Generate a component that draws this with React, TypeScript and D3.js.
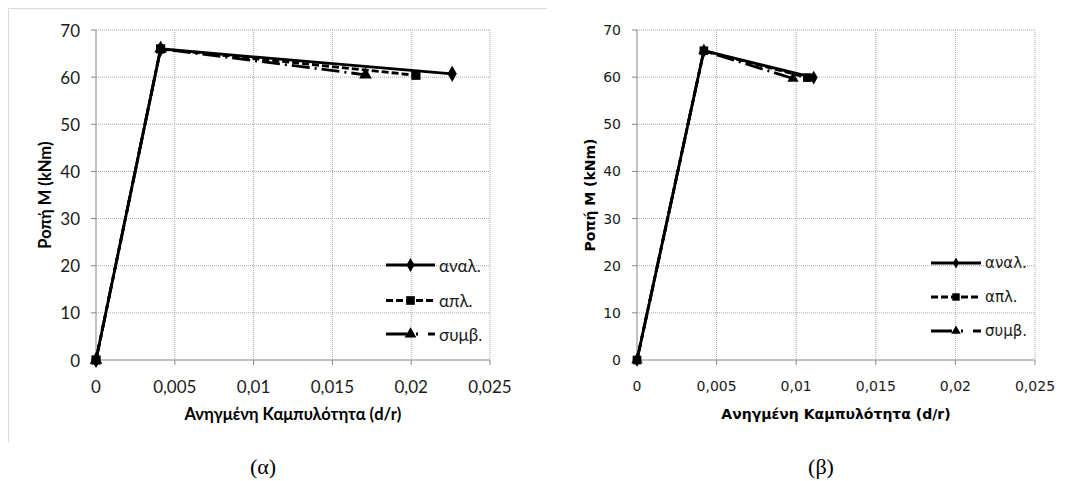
import * as d3 from 'd3'

// shared axis ticks
const xTicks = [0, 0.005, 0.01, 0.015, 0.02, 0.025]
const xTickLabels = ['0', '0,005', '0,01', '0,015', '0,02', '0,025']
const yTicks = [0, 10, 20, 30, 40, 50, 60, 70]

const seriesNames = ['αναλ.', 'απλ.', 'συμβ.']
const xTitle = 'Ανηγμένη Καμπυλότητα (d/r)'
const yTitle = 'Ροπή Μ (kNm)'

// chart (α)
const curvA_anal = [0, 0.0041, 0.0226]
const momA_anal = [0, 66, 60.7]
const curvA_apl = [0, 0.0041, 0.0203]
const momA_apl = [0, 66, 60.4]
const curvA_symv = [0, 0.0041, 0.0171]
const momA_symv = [0, 66, 60.5]

// chart (β)
const curvB_anal = [0, 0.0042, 0.0111]
const momB_anal = [0, 65.6, 59.9]
const curvB_apl = [0, 0.0042, 0.0107]
const momB_apl = [0, 65.6, 59.9]
const curvB_symv = [0, 0.0042, 0.0098]
const momB_symv = [0, 65.6, 59.7]

type Pt = [number, number]
const zip = (xs: number[], ys: number[]): Pt[] => xs.map((x, i) => [x, ys[i]])

const DASHES = ['none', '7,3', '18,5,2,5']
const LEGEND_DASHES = ['none', '7,3', '21,9,2,10,8,50']
const SYMBOLS = [d3.symbolDiamond, d3.symbolSquare, d3.symbolTriangle]

type ChartProps = {
  left: number
  right: number
  top: number
  bottom: number
  series: Pt[][]
  font: string
  tickSize: number
  titleSize: number
  legendSize: number
  legendX: number
  legendY: number[]
  legendLen: number
  markerSize: number[]
  legendMarker: number[]
  yTitleX: number
  caption: string
  captionX: number
}

function Chart(p: ChartProps) {
  const x = d3.scaleLinear().domain([0, 0.025]).range([p.left, p.right])
  const y = d3.scaleLinear().domain([0, 70]).range([p.bottom, p.top])
  const line = d3.line<Pt>().x((d) => x(d[0])).y((d) => y(d[1]))
  const cx = (p.left + p.right) / 2
  const order = [2, 0, 1]

  return (
    <g fontFamily={p.font}>
      {/* grid */}
      {yTicks.slice(1).map((t) => (
        <line key={'gy' + t} x1={p.left} x2={p.right} y1={y(t)} y2={y(t)}
          stroke="#a6a6a6" strokeDasharray="1,1" />
      ))}
      {xTicks.slice(1).map((t) => (
        <line key={'gx' + t} x1={x(t)} x2={x(t)} y1={p.top} y2={p.bottom}
          stroke="#a6a6a6" strokeDasharray="1,1" />
      ))}
      {/* axes */}
      <line x1={p.left} x2={p.left} y1={p.top} y2={p.bottom} stroke="#868686" />
      <line x1={p.left} x2={p.right} y1={p.bottom} y2={p.bottom} stroke="#868686" />
      {yTicks.map((t) => (
        <g key={'ty' + t}>
          <line x1={p.left - 5} x2={p.left} y1={y(t)} y2={y(t)} stroke="#868686" />
          <text x={p.left - 16} y={y(t)} textAnchor="end" dominantBaseline="central"
            fontSize={p.tickSize} fill="#1a1a1a">{t}</text>
        </g>
      ))}
      {xTicks.map((t, i) => (
        <g key={'tx' + t}>
          <line x1={x(t)} x2={x(t)} y1={p.bottom} y2={p.bottom + 5} stroke="#868686" />
          <text x={x(t)} y={p.bottom + 26} textAnchor="middle" dominantBaseline="central"
            fontSize={p.tickSize} fill="#1a1a1a">{xTickLabels[i]}</text>
        </g>
      ))}
      <text x={cx} y={p.bottom + 54} textAnchor="middle" dominantBaseline="central"
        fontSize={p.titleSize} fontWeight="bold" fill="#000">{xTitle}</text>
      <text transform={`translate(${p.yTitleX},${(p.top + p.bottom) / 2}) rotate(-90)`}
        textAnchor="middle" dominantBaseline="central" fontSize={p.titleSize}
        fontWeight="bold" fill="#000">{yTitle}</text>

      {/* series */}
      {order.map((k) => (
        <g key={'s' + k}>
          <path d={line(p.series[k]) ?? ''} fill="none" stroke="#000" strokeWidth={2.8}
            strokeDasharray={DASHES[k]} />
          {p.series[k].map((d, j) => (
            <path key={j} transform={`translate(${x(d[0])},${y(d[1])})`}
              d={d3.symbol(SYMBOLS[k], p.markerSize[k])() ?? ''} fill="#000" />
          ))}
        </g>
      ))}

      {/* legend */}
      {seriesNames.map((n, k) => (
        <g key={'l' + k} transform={`translate(${p.legendX},${p.legendY[k]})`}>
          <line x1={0} x2={p.legendLen} y1={0} y2={0} stroke="#000" strokeWidth={2.8}
            strokeDasharray={LEGEND_DASHES[k]} />
          <path transform={`translate(${p.legendLen / 2},0)`}
            d={d3.symbol(SYMBOLS[k], p.legendMarker[k])() ?? ''} fill="#000" />
          <text x={p.legendLen + 4} y={0} dominantBaseline="central"
            fontSize={p.legendSize} fill="#1a1a1a">{n}</text>
        </g>
      ))}

      <text x={p.captionX} y={466} textAnchor="middle" dominantBaseline="central"
        fontFamily="'Liberation Serif', serif" fontSize={22} fill="#000">{p.caption}</text>
    </g>
  )
}

export default function App() {
  return (
    <svg width={1076} height={481} style={{ position: 'absolute', left: 0, top: 0, display: 'block' }}>
      <rect width={1076} height={481} fill="#fff" />
      <path d="M8.5,442 V8.5 H547" fill="none" stroke="#d9d9d9" />
      <Chart
        left={96} right={490} top={30} bottom={360}
        series={[zip(curvA_anal, momA_anal), zip(curvA_apl, momA_apl), zip(curvA_symv, momA_symv)]}
        font="Lato, 'Open Sans', sans-serif"
        tickSize={17} titleSize={16.5} legendSize={17}
        legendX={386} legendY={[265, 300.5, 334]} legendLen={49}
        markerSize={[75, 85, 70]} legendMarker={[55, 75, 60]}
        yTitleX={45}
        caption="(α)" captionX={263}
      />
      <Chart
        left={637} right={1035} top={30} bottom={360}
        series={[zip(curvB_anal, momB_anal), zip(curvB_apl, momB_apl), zip(curvB_symv, momB_symv)]}
        font="'DejaVu Sans', Verdana, sans-serif"
        tickSize={14} titleSize={14} legendSize={15}
        legendX={931} legendY={[263, 297, 331]} legendLen={50}
        markerSize={[55, 75, 55]} legendMarker={[35, 55, 40]}
        yTitleX={590}
        caption="(β)" captionX={821}
      />
    </svg>
  )
}
